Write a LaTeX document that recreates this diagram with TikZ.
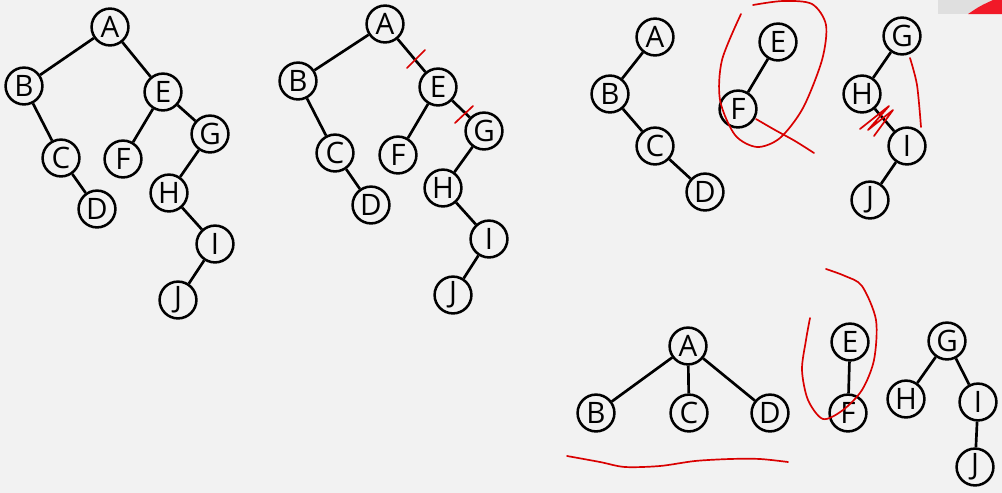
\documentclass[tikz,border=0pt]{standalone}
\usepackage{fontspec}
\setsansfont{Open Sans}
\begin{document}
\begin{tikzpicture}[x=0.025cm,y=-0.025cm,
  vertex/.style={draw,circle,line width=1.8pt,minimum size=0.92cm,inner sep=0pt,font=\sffamily\fontsize{21}{22}\selectfont},
  edge/.style={line width=1.9pt},
  pen/.style={line width=1.2pt,red!85!black,line cap=round,line join=round}]
\fill[gray!10] (0,0) rectangle (1002,493);
\useasboundingbox (0,0) rectangle (1002,493);

% corner of the slide window
\fill[gray!25] (938,0) rectangle (1002,14);
\fill[red!75!purple!90] (968,14) .. controls (980,6) .. (993,0) -- (1002,0) -- (1002,14) -- cycle;

% first tree
\node [vertex] (A1) at (110,27) {A};
\node [vertex] (B1) at (24,86) {B};
\node [vertex] (C1) at (61,158) {C};
\node [vertex] (D1) at (97,209) {D};
\node [vertex] (E1) at (163,92) {E};
\node [vertex] (F1) at (123,159) {F};
\node [vertex] (G1) at (210,134) {G};
\node [vertex] (H1) at (169,193) {H};
\node [vertex] (I1) at (215,244) {I};
\node [vertex] (J1) at (178,300) {J};
\draw [edge] (A1) -- (B1);
\draw [edge] (B1) -- (C1);
\draw [edge] (C1) -- (D1);
\draw [edge] (A1) -- (E1);
\draw [edge] (E1) -- (F1);
\draw [edge] (E1) -- (G1);
\draw [edge] (G1) -- (H1);
\draw [edge] (H1) -- (I1);
\draw [edge] (I1) -- (J1);

% second tree, cut marks
\node [vertex] (A2) at (385,24) {A};
\node [vertex] (B2) at (298,81) {B};
\node [vertex] (C2) at (335,153) {C};
\node [vertex] (D2) at (371,205) {D};
\node [vertex] (E2) at (438,87) {E};
\node [vertex] (F2) at (398,155) {F};
\node [vertex] (G2) at (484,131) {G};
\node [vertex] (H2) at (443,188) {H};
\node [vertex] (I2) at (489,239) {I};
\node [vertex] (J2) at (453,295) {J};
\draw [edge] (A2) -- (B2);
\draw [edge] (B2) -- (C2);
\draw [edge] (C2) -- (D2);
\draw [edge] (A2) -- (E2);
\draw [edge] (E2) -- (F2);
\draw [edge] (E2) -- (G2);
\draw [edge] (G2) -- (H2);
\draw [edge] (H2) -- (I2);
\draw [edge] (I2) -- (J2);
\draw [pen] (407,68) -- (425,50);
\draw [pen] (455,123) -- (473,106);

% three binary trees
\node [vertex] (A3) at (655,37) {A};
\node [vertex] (B3) at (610,94) {B};
\node [vertex] (C3) at (655,146) {C};
\node [vertex] (D3) at (705,192) {D};
\node [vertex] (E3) at (778,42) {E};
\node [vertex] (F3) at (738,109) {F};
\node [vertex] (G3) at (902,36) {G};
\node [vertex] (H3) at (862,94) {H};
\node [vertex] (I3) at (907,146) {I};
\node [vertex] (J3) at (870,200) {J};
\draw [edge] (A3) -- (B3);
\draw [edge] (B3) -- (C3);
\draw [edge] (C3) -- (D3);
\draw [edge] (E3) -- (F3);
\draw [edge] (G3) -- (H3);
\draw [edge] (H3) -- (I3);
\draw [edge] (I3) -- (J3);
\draw [pen] plot [smooth] coordinates {(741,14) (722,60) (720,100) (735,135) (757,147) (780,138) (803,108) (822,60) (826,25) (812,4) (783,1) (753,5)};
\draw [pen] plot [smooth] coordinates {(756,119) (775,130) (795,141) (814,153)};
\draw [pen] plot [smooth] coordinates {(910,58) (917,85) (921,127)};
\draw [pen] (860,129) -- (889,106) -- (868,130) -- (893,110) -- (874,136);

% forest
\node [vertex] (A4) at (688,346) {A};
\node [vertex] (B4) at (596,413) {B};
\node [vertex] (C4) at (689,413) {C};
\node [vertex] (D4) at (770,413) {D};
\node [vertex] (E4) at (850,342) {E};
\node [vertex] (F4) at (848,413) {F};
\node [vertex] (G4) at (947,341) {G};
\node [vertex] (H4) at (906,399) {H};
\node [vertex] (I4) at (978,402) {I};
\node [vertex] (J4) at (975,467) {J};
\draw [edge] (A4) -- (B4);
\draw [edge] (A4) -- (C4);
\draw [edge] (A4) -- (D4);
\draw [edge] (E4) -- (F4);
\draw [edge] (G4) -- (H4);
\draw [edge] (G4) -- (I4);
\draw [edge] (I4) -- (J4);
\draw [pen] plot [smooth] coordinates {(826,269) (845,276) (862,286) (876,320) (874,360) (862,390) (843,410) (823,419) (808,400) (802,370) (806,340) (810,318)};
\draw [pen] plot [smooth] coordinates {(567,456) (600,462) (625,467) (660,466) (695,461) (730,459) (760,459) (788,462)};
\end{tikzpicture}
\end{document}
